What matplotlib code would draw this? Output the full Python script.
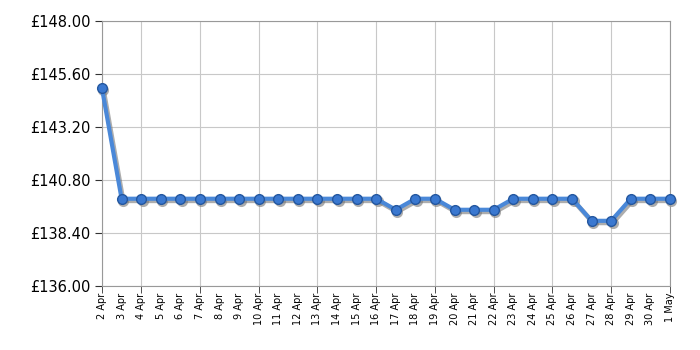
import matplotlib
matplotlib.use("Agg")
import matplotlib.pyplot as plt
import matplotlib.transforms as mtransforms
import numpy as np

# fechas y precios
fechas = ["2 Apr", "3 Apr", "4 Apr", "5 Apr", "6 Apr", "7 Apr", "8 Apr", "9 Apr",
          "10 Apr", "11 Apr", "12 Apr", "13 Apr", "14 Apr", "15 Apr", "16 Apr",
          "17 Apr", "18 Apr", "19 Apr", "20 Apr", "21 Apr", "22 Apr", "23 Apr",
          "24 Apr", "25 Apr", "26 Apr", "27 Apr", "28 Apr", "29 Apr", "30 Apr", "1 May"]
precios = [144.95, 139.95, 139.95, 139.95, 139.95, 139.95, 139.95, 139.95,
           139.95, 139.95, 139.95, 139.95, 139.95, 139.95, 139.95,
           139.45, 139.95, 139.95, 139.45, 139.45, 139.45, 139.95,
           139.95, 139.95, 139.95, 138.95, 138.95, 139.95, 139.95, 139.95]
grid_idx = [0, 2, 5, 8, 11, 14, 17, 20, 23, 26, 29]
y_ticks = [136.0, 138.4, 140.8, 143.2, 145.6, 148.0]

fig = plt.figure(figsize=(7, 3.5), dpi=100)
ax = fig.add_axes([0.1457, 0.183, 0.8114, 0.757])

x = np.arange(len(fechas))

# sombra desplazada un par de pixeles
sombra = mtransforms.offset_copy(ax.transData, fig=fig, x=1.5, y=-2, units="dots")
ax.plot(x, precios, color="#777777", alpha=0.6, lw=3.5, marker="o", markersize=8,
        markeredgewidth=0, transform=sombra, zorder=2, clip_on=False)

ax.plot(x, precios, color="#4a88d8", lw=3, marker="o", markersize=7,
        markerfacecolor="#3a78d0", markeredgecolor="#24579f", markeredgewidth=1,
        zorder=3, clip_on=False)

ax.set_xlim(0, len(fechas) - 1)
ax.set_ylim(136, 148)
ax.set_yticks(y_ticks)
ax.set_yticklabels([f"£{v:.2f}" for v in y_ticks], fontsize=10.5)

# etiquetas en todos los dias, marcas y grilla cada 3 dias
ax.set_xticks(x)
ax.set_xticklabels(fechas, rotation=90, fontsize=7)
ax.tick_params(axis="x", which="major", length=0, pad=5)
ax.xaxis.remove_overlapping_locs = False
ax.set_xticks(grid_idx, minor=True)
ax.tick_params(axis="x", which="minor", length=5, color="#333333")
ax.tick_params(axis="y", length=5, color="#333333")

ax.grid(True, axis="y", color="#c8c8c8", lw=0.8)
ax.grid(True, axis="x", which="minor", color="#c8c8c8", lw=0.8)
ax.set_axisbelow(True)
for s in ax.spines.values():
    s.set_color("#999999")

fig.savefig("out.png", dpi=100)
